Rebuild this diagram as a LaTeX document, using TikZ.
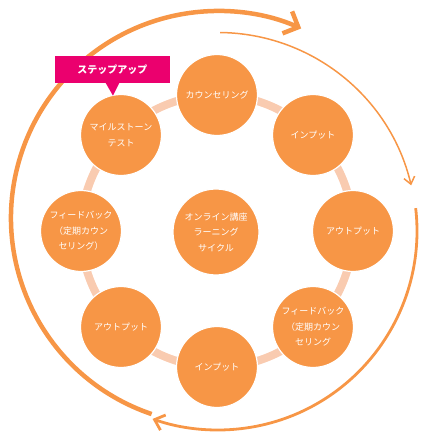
\documentclass[tikz,border=0pt]{standalone}
\usepackage{fontspec}
\newfontfamily\cjk{Noto Sans CJK JP}
\usetikzlibrary{arrows.meta,calc}
\definecolor{orng}{HTML}{F79646}
\definecolor{pnk}{HTML}{F9CBB0}
\definecolor{mag}{HTML}{EB006E}
\begin{document}
\begin{tikzpicture}[x=1pt,y=1pt,
  bub/.style={circle,fill=orng,draw=white,line width=1.2pt,minimum size=81pt,inner sep=0pt,text=white,align=center,font=\cjk\fontsize{9}{15.5}\selectfont},
  ring/.style={draw=pnk,line width=8pt},
  flow/.style={draw=orng},
]
\useasboundingbox (0,0) rectangle (430,440);
\coordinate (R) at (217,209);
\coordinate (T) at (218,222);
\coordinate (S) at (218,209);
% ring connectors
\draw[ring] (R) circle[radius=136pt];
% bubbles
\node[bub] (top) at (217,345) {カウンセリング};
\node[bub] (ur) at (313,305) {インプット};
\node[bub] (rt) at (353,209) {アウトプット};
\node[bub] (lr) at (313,113) {フィードバック\\（定期カウン\\セリング};
\node[bub] (bt) at (217,73) {インプット};
\node[bub] (ll) at (121,113) {アウトプット};
\node[bub] (lf) at (81,209) {フィードバック\\（定期カウン\\セリング）};
\node[bub] (ul) at (121,305) {マイルストーン\\テスト};
\node[bub,minimum size=86pt] (ctr) at (216,208) {オンライン講座\\ラーニング\\サイクル};
% outer arrows
\draw[flow,line width=4.5pt,-{Straight Barb[length=12pt,width=24pt,line width=4.5pt]}]
  ([shift={(251.3:207pt)}]T) arc[start angle=251.3,end angle=66.3,radius=207pt];
\draw[flow,line width=1.5pt,-{Straight Barb[length=7pt,width=11pt,line width=1.5pt]}]
  ([shift={(89.4:198.5pt)}]S) arc[start angle=89.4,end angle=13.3,radius=198.5pt];
\draw[flow,line width=2.8pt,-{Straight Barb[length=9pt,width=16pt,line width=2.8pt]}]
  ([shift={(6.6:199pt)}]S) arc[start angle=6.6,end angle=-109.2,radius=199pt];
% label
\node[fill=mag,minimum width=115pt,minimum height=27pt,inner sep=0pt,text=white,font=\cjk\bfseries\fontsize{10}{12}\selectfont] (lab) at (112.5,370.5) {ステップアップ};
\fill[mag] ($(lab.south)+(-7,0.5)$) -- ($(lab.south)+(7,0.5)$) -- ($(lab.south)+(0.5,-12.5)$) -- cycle;
\end{tikzpicture}
\end{document}
